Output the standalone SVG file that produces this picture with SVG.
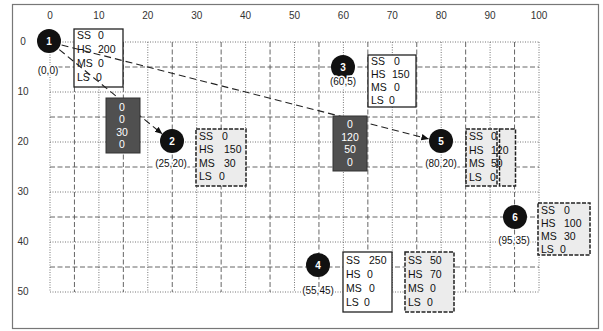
<svg xmlns="http://www.w3.org/2000/svg" width="603" height="331" viewBox="0 0 603 331">
<style>
text{font-family:"Liberation Sans",Arial,sans-serif;fill:#111}
.ax{font-size:10px;text-anchor:middle;fill:#333}
.lbl{font-size:10px;text-anchor:middle;paint-order:stroke;stroke:#fff;stroke-width:3px}
.bx{font-size:10.5px}
.num{font-size:10px;font-weight:bold;fill:#fff;text-anchor:middle}
.dk{font-size:10.5px;fill:#fff;text-anchor:middle}
.g1{stroke:#666;stroke-width:0.9;stroke-dasharray:1 1.5;fill:none}
.g2{stroke:#555;stroke-width:0.9;stroke-dasharray:5 2.5;fill:none}
.wb{fill:#fff;stroke:#222;stroke-width:1.3}
.lb{fill:#ececec;stroke:#222;stroke-width:1.5;stroke-dasharray:4 1.5}
.db{fill:#505050;stroke:#333;stroke-width:1}
.con{stroke:#222;stroke-width:1.1;stroke-dasharray:7 4;fill:none;marker-end:url(#ah)}
</style>
<defs>
<marker id="ah" markerWidth="8" markerHeight="8" refX="7" refY="4" orient="auto" markerUnits="userSpaceOnUse">
<path d="M0,0.8 L7.5,4 L0,7.2 Z" fill="#111"/>
</marker>
</defs>
<rect x="12.5" y="4.5" width="586" height="324" fill="#fff" stroke="#777" stroke-width="1.2"/>
<g id="grid">
<g class="g1">
<path d="M50,42V292M98.9,42V292M147.8,42V292M196.7,42V292M245.6,42V292M294.5,42V292M343.4,42V292M392.3,42V292M441.2,42V292M490.1,42V292M539,42V292"/>
<path d="M50,42H539M50,92H539M50,142H539M50,192H539M50,242H539M50,292H539"/>
</g>
<g class="g2">
<path d="M74.45,42V292M123.35,42V292M172.25,42V292M221.15,42V292M270.05,42V292M318.95,42V292M367.85,42V292M416.75,42V292M465.65,42V292M514.55,42V292"/>
<path d="M50,67H539M50,117H539M50,167H539M50,217H539M50,267H539"/>
</g>
</g>
<g id="axes">
<text class="ax" x="50" y="19">0</text>
<text class="ax" x="98.9" y="19">10</text>
<text class="ax" x="147.8" y="19">20</text>
<text class="ax" x="196.7" y="19">30</text>
<text class="ax" x="245.6" y="19">40</text>
<text class="ax" x="294.5" y="19">50</text>
<text class="ax" x="343.4" y="19">60</text>
<text class="ax" x="392.3" y="19">70</text>
<text class="ax" x="441.2" y="19">80</text>
<text class="ax" x="490.1" y="19">90</text>
<text class="ax" x="539" y="19">100</text>
<text class="ax" x="23" y="45">0</text>
<text class="ax" x="23" y="95">10</text>
<text class="ax" x="23" y="145">20</text>
<text class="ax" x="23" y="195">30</text>
<text class="ax" x="23" y="245">40</text>
<text class="ax" x="23" y="295">50</text>
</g>
<g id="box1">
<rect class="wb" x="74" y="29" width="49" height="58"/>
<text class="bx" x="77" y="39">SS</text><text class="bx" x="98" y="39">0</text>
<text class="bx" x="77" y="53">HS</text><text class="bx" x="98" y="53">200</text>
<text class="bx" x="77" y="67">MS</text><text class="bx" x="98" y="67">0</text>
<text class="bx" x="77" y="81">LS</text><text class="bx" x="96" y="81">0</text>
</g>
<g id="box3">
<rect class="wb" x="368" y="55" width="48" height="52"/>
<text class="bx" x="371" y="65">SS</text><text class="bx" x="394" y="65">0</text>
<text class="bx" x="371" y="78">HS</text><text class="bx" x="392" y="78">150</text>
<text class="bx" x="371" y="91">MS</text><text class="bx" x="394" y="91">0</text>
<text class="bx" x="371" y="104">LS</text><text class="bx" x="389" y="104">0</text>
</g>
<g id="box2">
<rect class="lb" x="196" y="129" width="50" height="57"/>
<text class="bx" x="199" y="140">SS</text><text class="bx" x="222" y="140">0</text>
<text class="bx" x="199" y="153">HS</text><text class="bx" x="224" y="153">150</text>
<text class="bx" x="199" y="167">MS</text><text class="bx" x="224" y="167">30</text>
<text class="bx" x="199" y="180">LS</text><text class="bx" x="219" y="180">0</text>
</g>
<g id="box5">
<rect class="lb" x="466" y="129" width="31" height="57"/>
<rect class="lb" x="499.5" y="129" width="16" height="57"/>
<text class="bx" x="469" y="140">SS</text><text class="bx" x="491" y="140">0</text>
<text class="bx" x="469" y="154">HS</text><text class="bx" x="491" y="154">120</text>
<text class="bx" x="469" y="167">MS</text><text class="bx" x="491" y="167">50</text>
<text class="bx" x="469" y="181">LS</text><text class="bx" x="490" y="181">0</text>
</g>
<g id="box6">
<rect class="lb" x="538" y="203" width="52" height="52"/>
<text class="bx" x="541" y="214">SS</text><text class="bx" x="564" y="214">0</text>
<text class="bx" x="541" y="227">HS</text><text class="bx" x="564" y="227">100</text>
<text class="bx" x="541" y="240">MS</text><text class="bx" x="564" y="240">30</text>
<text class="bx" x="541" y="253">LS</text><text class="bx" x="560" y="253">0</text>
</g>
<g id="box4a">
<rect class="wb" x="343" y="252" width="49" height="60"/>
<text class="bx" x="346" y="264">SS</text><text class="bx" x="369" y="264">250</text>
<text class="bx" x="346" y="278">HS</text><text class="bx" x="367" y="278">0</text>
<text class="bx" x="346" y="292">MS</text><text class="bx" x="369" y="292">0</text>
<text class="bx" x="346" y="306">LS</text><text class="bx" x="364" y="306">0</text>
</g>
<g id="box4b">
<rect class="lb" x="405" y="252" width="49" height="60"/>
<text class="bx" x="408" y="264">SS</text><text class="bx" x="430" y="264">50</text>
<text class="bx" x="408" y="278">HS</text><text class="bx" x="430" y="278">70</text>
<text class="bx" x="408" y="292">MS</text><text class="bx" x="430" y="292">0</text>
<text class="bx" x="408" y="306">LS</text><text class="bx" x="427" y="306">0</text>
</g>
<g id="connectors">
<path class="con" d="M59.3,49.6 L162,133.8"/>
<path class="con" d="M61.6,45 L428.4,138.8"/>
</g>
<g id="dark1">
<rect class="db" x="106" y="98" width="34" height="55"/>
<text class="dk" x="122" y="111">0</text>
<text class="dk" x="122" y="123">0</text>
<text class="dk" x="122" y="136">30</text>
<text class="dk" x="122" y="148">0</text>
</g>
<g id="dark2">
<rect class="db" x="333" y="116" width="34" height="55"/>
<text class="dk" x="350" y="128">0</text>
<text class="dk" x="350" y="141">120</text>
<text class="dk" x="350" y="153">50</text>
<text class="dk" x="350" y="166">0</text>
</g>
<g id="node1"><circle cx="49" cy="41" r="12" fill="#111"/><text class="num" x="49" y="45">1</text><text class="lbl" x="48" y="74">(0,0)</text></g>
<g id="node2"><circle cx="172" cy="141" r="12" fill="#111"/><text class="num" x="172" y="145">2</text><text class="lbl" x="171" y="167">(25,20)</text></g>
<g id="node3"><circle cx="343" cy="67" r="12" fill="#111"/><text class="num" x="343" y="71">3</text><text class="lbl" x="343" y="85">(60,5)</text></g>
<g id="node4"><circle cx="318" cy="265" r="12" fill="#111"/><text class="num" x="318" y="269">4</text><text class="lbl" x="318" y="294">(55,45)</text></g>
<g id="node5"><circle cx="441" cy="141" r="12" fill="#111"/><text class="num" x="441" y="145">5</text><text class="lbl" x="441" y="167">(80,20)</text></g>
<g id="node6"><circle cx="515" cy="217" r="12" fill="#111"/><text class="num" x="515" y="221">6</text><text class="lbl" x="514" y="244">(95,35)</text></g>
</svg>
